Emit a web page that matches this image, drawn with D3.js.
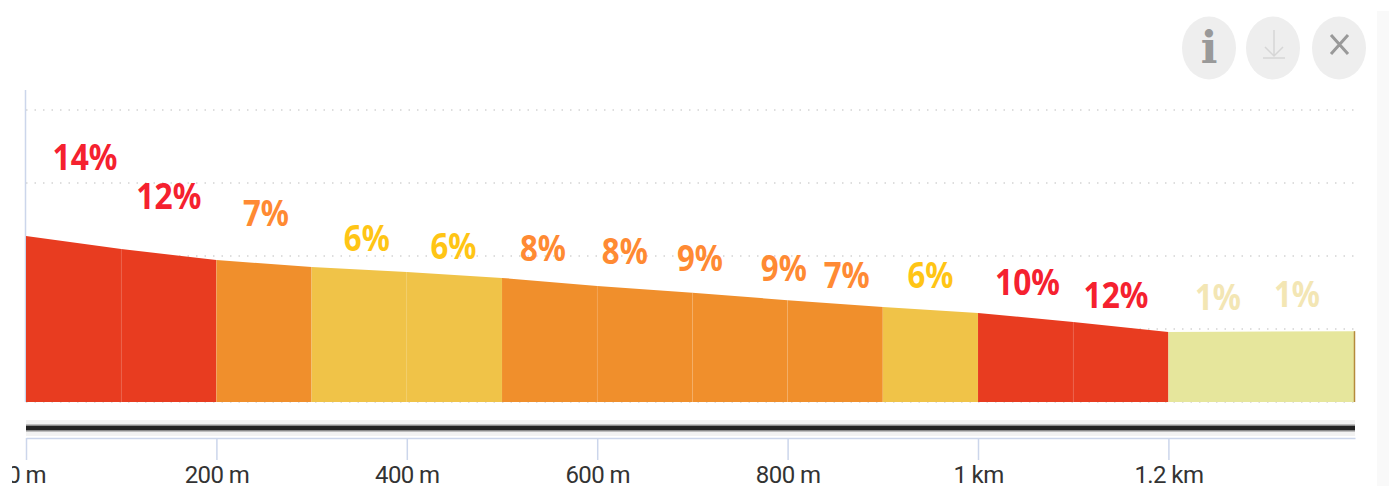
<!DOCTYPE html>
<html>
<head>
<meta charset="utf-8">
<script src="https://cdn.jsdelivr.net/npm/d3@7"></script>
<style>
  html, body { margin: 0; padding: 0; background: #fff; overflow: hidden; }
  svg { display: block; }
</style>
</head>
<body>
<div id="chart"></div>
<script>
// Climb profile data
const distances = [0, 100, 200, 300, 400, 500, 600, 700, 800, 900, 1000, 1100, 1200, 1396];
const altitudes = [45.5, 41.9, 38.9, 37, 35.6, 34, 31.8, 29.9, 27.9, 26, 24.4, 21.9, 19.2, 19.4];
const segmentGrades = [14, 12, 7, 6, 6, 8, 8, 9, 9, 6, 10, 12, 1];
// the labels do not line up one to one with the stretches in the picture
const labelGrades = [14, 12, 7, 6, 6, 8, 8, 9, 9, 7, 6, 10, 12, 1, 1];
const labelDistances = [62, 150, 252, 358, 449, 543, 629, 708, 796, 862, 950, 1052, 1145, 1252, 1335];
const labelAltitudes = [63.6, 52.9, 48.2, 41.4, 39.2, 38.6, 37.8, 35.9, 33.2, 31.2, 31.2, 29.3, 25.8, 25.2, 26];
const gridValues = [0, 20, 40, 60, 80];
const tickValues = [0, 200, 400, 600, 800, 1000, 1200];
const tickLabels = ["0 m", "200 m", "400 m", "600 m", "800 m", "1 km", "1.2 km"];

const width = 1389;
const height = 486;
const margin = { top: 110, right: 34, bottom: 84, left: 26 };

const svg = d3.select("#chart")
  .append("svg")
  .attr("width", width)
  .attr("height", height);

const x = d3.scaleLinear().domain([0, 1396]).range([margin.left, width - margin.right]);
const y = d3.scaleLinear().domain([0, 80]).range([height - margin.bottom, margin.top]);

const fillColor = d3.scaleThreshold().domain([3, 7, 10]).range(["#e6e69c", "#f0c348", "#f08f2c", "#e83c20"]);
const labelColor = d3.scaleThreshold().domain([3, 7, 10]).range(["#f3e6b4", "#ffc515", "#ff8a33", "#f5212f"]);

// pale strip down the right edge
svg.append("rect")
  .attr("x", 1377)
  .attr("y", 11)
  .attr("width", 12)
  .attr("height", height - 11)
  .attr("fill", "#f9f9f9");

// dotted grid
svg.append("g").selectAll("line")
  .data(gridValues)
  .enter()
  .append("line")
  .attr("x1", x(0))
  .attr("x2", x(1396))
  .attr("y1", d => y(d))
  .attr("y2", d => y(d))
  .attr("stroke", "#d4d4d4")
  .attr("stroke-width", 1.5)
  .attr("stroke-dasharray", "1.5 7");

// left axis line
svg.append("line")
  .attr("x1", x(0) - 0.5)
  .attr("x2", x(0) - 0.5)
  .attr("y1", 90)
  .attr("y2", y(0))
  .attr("stroke", "#ccd6eb")
  .attr("stroke-width", 1.5);

// one area per stretch
const segmentArea = d3.area().x(d => x(d[0])).y0(y(0)).y1(d => y(d[1]));
const segments = segmentGrades.map((g, i) => ({
  grade: g,
  points: [[distances[i], altitudes[i]], [distances[i + 1], altitudes[i + 1]]]
}));

svg.append("g").selectAll("path")
  .data(segments)
  .enter()
  .append("path")
  .attr("d", d => segmentArea(d.points))
  .attr("fill", d => fillColor(d.grade));

// faint seams between stretches
svg.append("g").selectAll("line")
  .data(distances.slice(1, 12))
  .enter()
  .append("line")
  .attr("x1", d => x(d))
  .attr("x2", d => x(d))
  .attr("y1", y(0))
  .attr("y2", (d, i) => y(altitudes[i + 1]))
  .attr("stroke", "#fff")
  .attr("stroke-opacity", 0.06);

// closing edge of the profile
svg.append("line")
  .attr("x1", x(1396) - 0.5)
  .attr("x2", x(1396) - 0.5)
  .attr("y1", y(altitudes[13]))
  .attr("y2", y(0))
  .attr("stroke", "#b58a3c")
  .attr("stroke-width", 1.5);

// grade labels
svg.append("g").selectAll("text")
  .data(labelGrades)
  .enter()
  .append("text")
  .attr("x", (d, i) => x(labelDistances[i]))
  .attr("y", (d, i) => y(labelAltitudes[i]))
  .attr("text-anchor", "middle")
  .attr("font-family", "'Noto Sans', sans-serif")
  .attr("font-weight", 700)
  .attr("font-size", 35)
  .attr("fill", d => labelColor(d))
  .attr("textLength", d => d >= 10 ? 65 : 46)
  .attr("lengthAdjust", "spacingAndGlyphs")
  .text(d => d + "%");

// navigator bar above the axis
svg.append("rect")
  .attr("x", x(0))
  .attr("y", 420)
  .attr("width", x(1396) - x(0))
  .attr("height", 16)
  .attr("fill", "#f2f2f2");

svg.append("rect")
  .attr("x", x(0))
  .attr("y", 424.5)
  .attr("width", x(1396) - x(0))
  .attr("height", 7)
  .attr("fill", "#8a8a8a");

svg.append("rect")
  .attr("x", x(0))
  .attr("y", 426)
  .attr("width", x(1396) - x(0))
  .attr("height", 4)
  .attr("fill", "#222");

// bottom axis, the leftmost label is cut off by the plot frame
svg.append("clipPath")
  .attr("id", "axis-clip")
  .append("rect")
  .attr("x", 12)
  .attr("y", 430)
  .attr("width", width - 12)
  .attr("height", 56);

const axisGroup = svg.append("g")
  .attr("clip-path", "url(#axis-clip)")
  .append("g")
  .attr("transform", "translate(0,438)")
  .call(d3.axisBottom(x)
    .tickValues(tickValues)
    .tickFormat((d, i) => tickLabels[i])
    .tickSize(22)
    .tickSizeOuter(0)
    .tickPadding(3));

axisGroup.select(".domain")
  .attr("stroke", "#ccd6eb")
  .attr("stroke-width", 1.5);

axisGroup.selectAll(".tick line")
  .attr("stroke", "#ccd6eb")
  .attr("stroke-width", 1.5);

axisGroup.selectAll(".tick text")
  .attr("font-family", "Roboto, sans-serif")
  .attr("font-size", 24)
  .attr("letter-spacing", -0.6)
  .attr("fill", "#333")
  .attr("y", 22)
  .attr("dy", "23");

// top right buttons
svg.append("g").selectAll("ellipse")
  .data([1209, 1273, 1339])
  .enter()
  .append("ellipse")
  .attr("cx", d => d)
  .attr("cy", 48)
  .attr("rx", 27)
  .attr("ry", 31.5)
  .attr("fill", "#eeeeee");

svg.append("text")
  .attr("x", 1209)
  .attr("y", 63)
  .attr("text-anchor", "middle")
  .attr("font-family", "'DejaVu Serif', serif")
  .attr("font-weight", 700)
  .attr("font-size", 44)
  .attr("fill", "#999")
  .text("i");

svg.append("path")
  .attr("d", "M1274 30V56M1265 47L1274 56L1283 47M1263 58H1285")
  .attr("fill", "none")
  .attr("stroke", "#d6d6d6")
  .attr("stroke-width", 1.5);

svg.append("path")
  .attr("d", "M1331 35L1348 54M1348 35L1331 54")
  .attr("fill", "none")
  .attr("stroke", "#999")
  .attr("stroke-width", 3);
</script>
</body>
</html>
